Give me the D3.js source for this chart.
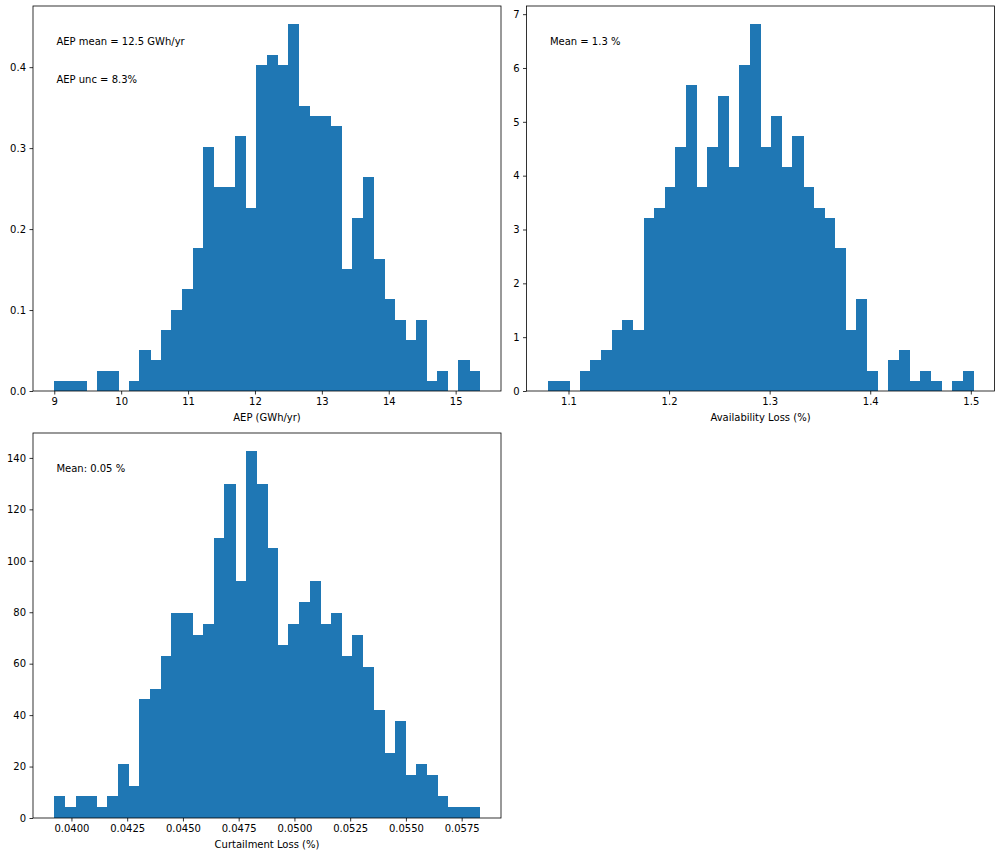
<!DOCTYPE html>
<html>
<head>
<meta charset="utf-8">
<script src="https://cdn.jsdelivr.net/npm/d3@7/dist/d3.min.js"></script>
<style>
  body { margin: 0; background: #fff; }
  svg { display: block; font-family: "DejaVu Sans", sans-serif; }
  rect.bar { shape-rendering: crispEdges; }
</style>
</head>
<body>
<div class="canvas"></div>
<script>
/////////////////////////////////
//** DATA (40 bins each, density) **//

// AEP
const aepRange = [9.0, 15.36];
const aepDensity = [0.0126, 0.0126, 0.0126, 0, 0.0252, 0.0252, 0, 0.0126, 0.0503, 0.0377,
  0.0755, 0.1006, 0.1258, 0.1761, 0.3019, 0.2516, 0.2516, 0.3145, 0.2264, 0.4026,
  0.4151, 0.4026, 0.4529, 0.3522, 0.3397, 0.3397, 0.3271, 0.151, 0.2139, 0.2642,
  0.1635, 0.1132, 0.0881, 0.0629, 0.0881, 0.0126, 0.0252, 0, 0.0377, 0.0252];
const aepXTicks = [9, 10, 11, 12, 13, 14, 15];
const aepYTicks = [0, 0.1, 0.2, 0.3, 0.4];

// availability loss
const availRange = [1.0794, 1.5024];
const availDensity = [0.189, 0.189, 0, 0.378, 0.568, 0.757, 1.135, 1.324, 1.135, 3.216,
  3.406, 3.784, 4.541, 5.676, 3.784, 4.541, 5.487, 4.162, 6.054, 6.811,
  4.541, 5.108, 4.162, 4.73, 3.784, 3.406, 3.216, 2.649, 1.135, 1.703,
  0.378, 0, 0.568, 0.757, 0.189, 0.378, 0.189, 0, 0.189, 0.378];
const availXTicks = [1.1, 1.2, 1.3, 1.4, 1.5];
const availYTicks = [0, 1, 2, 3, 4, 5, 6, 7];

// curtailment loss
const curtRange = [0.03923, 0.05831];
const curtDensity = [8.39, 4.19, 8.39, 8.39, 4.19, 8.39, 20.97, 12.58, 46.12, 50.32,
  62.9, 79.67, 79.67, 71.28, 75.47, 109.02, 129.98, 92.25, 142.56, 129.98,
  104.83, 67.09, 75.47, 83.86, 92.25, 75.47, 79.67, 62.9, 71.28, 58.7,
  41.93, 25.16, 37.74, 16.77, 20.97, 16.77, 8.39, 4.19, 4.19, 4.19];
const curtXTicks = [0.04, 0.0425, 0.045, 0.0475, 0.05, 0.0525, 0.055, 0.0575];
const curtYTicks = [0, 20, 40, 60, 80, 100, 120, 140];

/////////////////////////////////
//** LAYOUT **//

const W = 1000, H = 856;
const panelW = 468, panelH = 385;

const panels = [
  { left: 33, top: 6, range: aepRange, values: aepDensity, xTicks: aepXTicks, yTicks: aepYTicks,
    xFmt: d3.format('d'), yFmt: d3.format('.1f'), xLabel: 'AEP (GWh/yr)',
    notes: [{ text: 'AEP mean = 12.5 GWh/yr', fy: 0.9 }, { text: 'AEP unc = 8.3%', fy: 0.8 }] },
  { left: 526.5, top: 6, range: availRange, values: availDensity, xTicks: availXTicks, yTicks: availYTicks,
    xFmt: d3.format('.1f'), yFmt: d3.format('d'), xLabel: 'Availability Loss (%)',
    notes: [{ text: 'Mean = 1.3 %', fy: 0.9 }] },
  { left: 33, top: 433, range: curtRange, values: curtDensity, xTicks: curtXTicks, yTicks: curtYTicks,
    xFmt: d3.format('.4f'), yFmt: d3.format('d'), xLabel: 'Curtailment Loss (%)',
    notes: [{ text: 'Mean: 0.05 %', fy: 0.9 }] }
];

const svg = d3.select('.canvas')
  .append('svg')
  .attr('width', W)
  .attr('height', H);

panels.forEach(p => {
  const g = svg.append('g').attr('transform', `translate(${p.left}, ${p.top})`);

  // 40 equal bins between data min and max
  const nBins = p.values.length;
  const edge = d3.scaleLinear().domain([0, nBins]).range(p.range);
  const span = p.range[1] - p.range[0];
  const yMax = d3.max(p.values) * 1.05;

  // matplotlib style 5% margins on x
  const x = d3.scaleLinear()
    .domain([p.range[0] - span * 0.05, p.range[1] + span * 0.05])
    .range([0, panelW]);
  const y = d3.scaleLinear()
    .domain([0, yMax])
    .range([panelH, 0]);

  g.selectAll('rect.bar')
    .data(p.values)
    .enter()
    .append('rect')
    .attr('class', 'bar')
    .attr('x', (d, i) => x(edge(i)))
    .attr('width', (d, i) => x(edge(i + 1)) - x(edge(i)) + 0.5)
    .attr('y', d => y(d))
    .attr('height', d => y(0) - y(d))
    .attr('fill', '#1f77b4');

  // axes
  const xAxis = d3.axisBottom(x)
    .tickValues(p.xTicks)
    .tickFormat(p.xFmt)
    .tickSizeInner(3.5)
    .tickSizeOuter(0)
    .tickPadding(3.5);
  const yAxis = d3.axisLeft(y)
    .tickValues(p.yTicks)
    .tickFormat(p.yFmt)
    .tickSizeInner(3.5)
    .tickSizeOuter(0)
    .tickPadding(3.5);

  const gx = g.append('g').attr('transform', `translate(0, ${panelH})`).call(xAxis);
  const gy = g.append('g').call(yAxis);
  [gx, gy].forEach(a => {
    a.select('.domain').remove();
    a.selectAll('line').attr('stroke', '#000').attr('stroke-width', 0.8);
    a.selectAll('text').attr('fill', '#000').style('font-size', '10px')
      .style('font-family', '"DejaVu Sans", sans-serif');
  });

  // frame
  g.append('rect')
    .attr('width', panelW)
    .attr('height', panelH)
    .attr('fill', 'none')
    .attr('stroke', '#000')
    .attr('stroke-width', 0.8);

  // x label
  g.append('text')
    .attr('x', panelW / 2)
    .attr('y', panelH + 30)
    .attr('text-anchor', 'middle')
    .style('font-size', '10px')
    .text(p.xLabel);

  // notes in axes fraction
  p.notes.forEach(n => {
    g.append('text')
      .attr('x', panelW * 0.05)
      .attr('y', panelH * (1 - n.fy))
      .style('font-size', '10px')
      .text(n.text);
  });
});
</script>
</body>
</html>
